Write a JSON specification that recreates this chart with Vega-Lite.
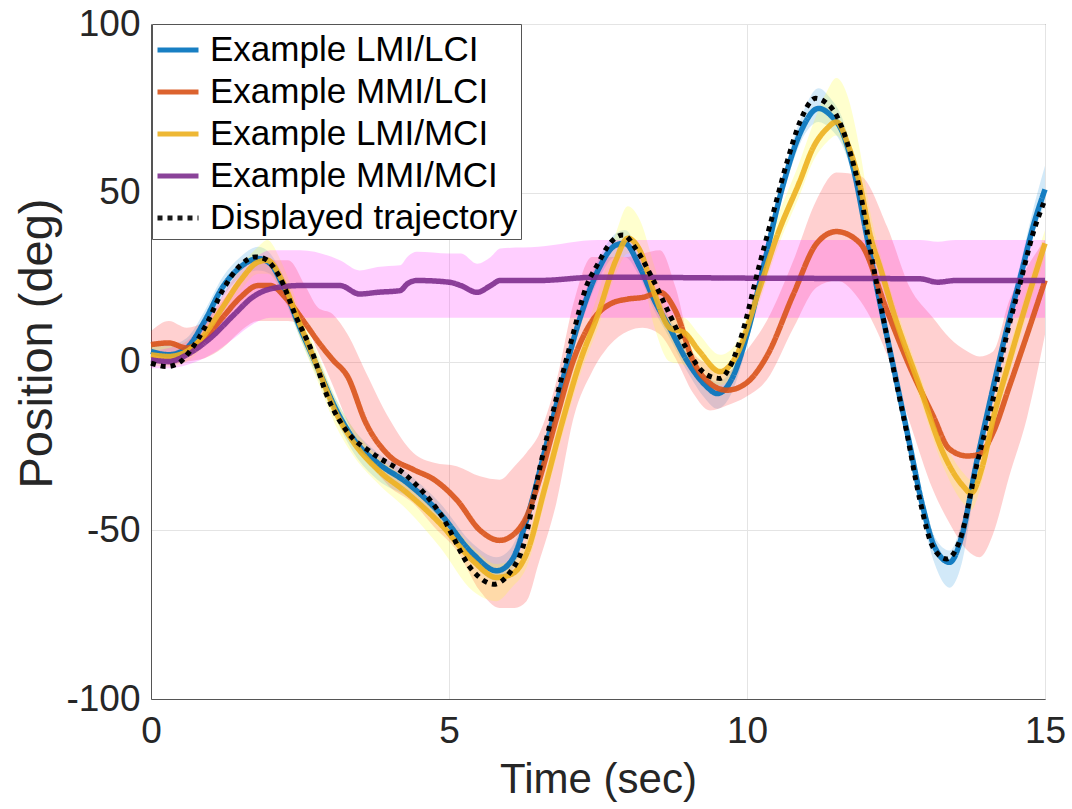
{
  "$schema": "https://vega.github.io/schema/vega-lite/v6.json",
  "width": 894,
  "height": 675,
  "autosize": "none",
  "padding": {"left": 151, "top": 24, "right": 27, "bottom": 110},
  "background": "white",
  "config": {
    "view": {"stroke": "#555555", "strokeWidth": 1},
    "font": "Liberation Sans",
    "axis": {
      "labelFont": "Liberation Sans",
      "labelFontSize": 37,
      "labelColor": "#262626",
      "labelFlush": false,
      "labelOverlap": false,
      "labelExpr": "'' + datum.value",
      "titleFont": "Liberation Sans",
      "titleFontWeight": "normal",
      "titleColor": "#262626",
      "domainColor": "#555555",
      "gridColor": "#e4e4e4",
      "ticks": false
    }
  },
  "data": {
    "values": [
      {"s": "Example LMI/LCI", "t": 0, "y": 3, "lo": 0, "hi": 6},
      {"s": "Example LMI/LCI", "t": 0.3, "y": 2, "lo": -1, "hi": 5},
      {"s": "Example LMI/LCI", "t": 0.6, "y": 4, "lo": 1, "hi": 7},
      {"s": "Example LMI/LCI", "t": 0.9, "y": 12, "lo": 9, "hi": 15},
      {"s": "Example LMI/LCI", "t": 1.2, "y": 22, "lo": 19, "hi": 25},
      {"s": "Example LMI/LCI", "t": 1.5, "y": 28, "lo": 25, "hi": 31},
      {"s": "Example LMI/LCI", "t": 1.8, "y": 30.5, "lo": 27, "hi": 34},
      {"s": "Example LMI/LCI", "t": 2.0, "y": 29, "lo": 26, "hi": 32},
      {"s": "Example LMI/LCI", "t": 2.2, "y": 23, "lo": 20, "hi": 26},
      {"s": "Example LMI/LCI", "t": 2.5, "y": 10, "lo": 7, "hi": 13},
      {"s": "Example LMI/LCI", "t": 2.8, "y": -2, "lo": -5, "hi": 1},
      {"s": "Example LMI/LCI", "t": 3.1, "y": -14, "lo": -17, "hi": -11},
      {"s": "Example LMI/LCI", "t": 3.4, "y": -23, "lo": -27, "hi": -20},
      {"s": "Example LMI/LCI", "t": 3.8, "y": -30, "lo": -35, "hi": -27},
      {"s": "Example LMI/LCI", "t": 4.3, "y": -36, "lo": -40, "hi": -33},
      {"s": "Example LMI/LCI", "t": 4.85, "y": -45, "lo": -48, "hi": -42},
      {"s": "Example LMI/LCI", "t": 5.4, "y": -57, "lo": -60, "hi": -54},
      {"s": "Example LMI/LCI", "t": 5.8, "y": -62, "lo": -65, "hi": -58},
      {"s": "Example LMI/LCI", "t": 6.05, "y": -59, "lo": -62, "hi": -55},
      {"s": "Example LMI/LCI", "t": 6.3, "y": -47, "lo": -50, "hi": -44},
      {"s": "Example LMI/LCI", "t": 6.6, "y": -27, "lo": -30, "hi": -24},
      {"s": "Example LMI/LCI", "t": 6.9, "y": -6, "lo": -9, "hi": -3},
      {"s": "Example LMI/LCI", "t": 7.2, "y": 13, "lo": 10, "hi": 16},
      {"s": "Example LMI/LCI", "t": 7.5, "y": 27, "lo": 24, "hi": 30},
      {"s": "Example LMI/LCI", "t": 7.8, "y": 34.5, "lo": 31, "hi": 38},
      {"s": "Example LMI/LCI", "t": 7.95, "y": 35, "lo": 31, "hi": 39},
      {"s": "Example LMI/LCI", "t": 8.2, "y": 28, "lo": 25, "hi": 32},
      {"s": "Example LMI/LCI", "t": 8.45, "y": 18, "lo": 15, "hi": 21},
      {"s": "Example LMI/LCI", "t": 8.7, "y": 10, "lo": 7, "hi": 13},
      {"s": "Example LMI/LCI", "t": 9.0, "y": 0, "lo": -3, "hi": 3},
      {"s": "Example LMI/LCI", "t": 9.3, "y": -7, "lo": -11, "hi": -4},
      {"s": "Example LMI/LCI", "t": 9.5, "y": -9.5, "lo": -14, "hi": -6},
      {"s": "Example LMI/LCI", "t": 9.75, "y": -5, "lo": -9, "hi": -2},
      {"s": "Example LMI/LCI", "t": 10.0, "y": 8, "lo": 5, "hi": 11},
      {"s": "Example LMI/LCI", "t": 10.3, "y": 30, "lo": 27, "hi": 33},
      {"s": "Example LMI/LCI", "t": 10.6, "y": 52, "lo": 49, "hi": 55},
      {"s": "Example LMI/LCI", "t": 10.9, "y": 68, "lo": 65, "hi": 72},
      {"s": "Example LMI/LCI", "t": 11.2, "y": 75, "lo": 71, "hi": 81},
      {"s": "Example LMI/LCI", "t": 11.4, "y": 73, "lo": 69, "hi": 78},
      {"s": "Example LMI/LCI", "t": 11.6, "y": 68, "lo": 64, "hi": 72},
      {"s": "Example LMI/LCI", "t": 11.8, "y": 56, "lo": 53, "hi": 59},
      {"s": "Example LMI/LCI", "t": 12.0, "y": 38, "lo": 35, "hi": 41},
      {"s": "Example LMI/LCI", "t": 12.2, "y": 20, "lo": 17, "hi": 23},
      {"s": "Example LMI/LCI", "t": 12.45, "y": -1, "lo": -4, "hi": 2},
      {"s": "Example LMI/LCI", "t": 12.7, "y": -22, "lo": -26, "hi": -19},
      {"s": "Example LMI/LCI", "t": 12.95, "y": -43, "lo": -47, "hi": -40},
      {"s": "Example LMI/LCI", "t": 13.15, "y": -55, "lo": -60, "hi": -52},
      {"s": "Example LMI/LCI", "t": 13.4, "y": -59.5, "lo": -67, "hi": -56},
      {"s": "Example LMI/LCI", "t": 13.6, "y": -52, "lo": -60, "hi": -48},
      {"s": "Example LMI/LCI", "t": 13.85, "y": -30, "lo": -34, "hi": -27},
      {"s": "Example LMI/LCI", "t": 14.1, "y": -10, "lo": -13, "hi": -7},
      {"s": "Example LMI/LCI", "t": 14.35, "y": 9, "lo": 6, "hi": 12},
      {"s": "Example LMI/LCI", "t": 14.6, "y": 26, "lo": 23, "hi": 30},
      {"s": "Example LMI/LCI", "t": 14.8, "y": 40, "lo": 37, "hi": 45},
      {"s": "Example LMI/LCI", "t": 15, "y": 51, "lo": 47, "hi": 58},

      {"s": "Example MMI/LCI", "t": 0, "y": 5, "lo": 0, "hi": 9},
      {"s": "Example MMI/LCI", "t": 0.3, "y": 5.5, "lo": -1, "hi": 12},
      {"s": "Example MMI/LCI", "t": 0.6, "y": 4, "lo": 0, "hi": 10},
      {"s": "Example MMI/LCI", "t": 0.9, "y": 7, "lo": 1, "hi": 12},
      {"s": "Example MMI/LCI", "t": 1.2, "y": 13, "lo": 4, "hi": 18},
      {"s": "Example MMI/LCI", "t": 1.5, "y": 19, "lo": 9, "hi": 25},
      {"s": "Example MMI/LCI", "t": 1.8, "y": 22.5, "lo": 12, "hi": 29},
      {"s": "Example MMI/LCI", "t": 2.0, "y": 22.5, "lo": 12, "hi": 30},
      {"s": "Example MMI/LCI", "t": 2.3, "y": 18, "lo": 12, "hi": 30},
      {"s": "Example MMI/LCI", "t": 2.6, "y": 11, "lo": 10, "hi": 22},
      {"s": "Example MMI/LCI", "t": 2.8, "y": 6, "lo": 3, "hi": 16},
      {"s": "Example MMI/LCI", "t": 3.05, "y": 0.5, "lo": -7, "hi": 14},
      {"s": "Example MMI/LCI", "t": 3.3, "y": -4.5, "lo": -18, "hi": 8},
      {"s": "Example MMI/LCI", "t": 3.6, "y": -18, "lo": -28, "hi": -3},
      {"s": "Example MMI/LCI", "t": 4.0, "y": -28, "lo": -37, "hi": -17},
      {"s": "Example MMI/LCI", "t": 4.4, "y": -32, "lo": -42, "hi": -27},
      {"s": "Example MMI/LCI", "t": 4.75, "y": -35, "lo": -49, "hi": -30},
      {"s": "Example MMI/LCI", "t": 5.13, "y": -41, "lo": -56, "hi": -31},
      {"s": "Example MMI/LCI", "t": 5.52, "y": -50, "lo": -68, "hi": -34},
      {"s": "Example MMI/LCI", "t": 5.85, "y": -53, "lo": -73, "hi": -35},
      {"s": "Example MMI/LCI", "t": 6.1, "y": -51, "lo": -73, "hi": -31},
      {"s": "Example MMI/LCI", "t": 6.3, "y": -46, "lo": -71, "hi": -27},
      {"s": "Example MMI/LCI", "t": 6.5, "y": -36, "lo": -60, "hi": -22},
      {"s": "Example MMI/LCI", "t": 6.8, "y": -17, "lo": -42, "hi": -6},
      {"s": "Example MMI/LCI", "t": 7.1, "y": 1, "lo": -16, "hi": 18},
      {"s": "Example MMI/LCI", "t": 7.4, "y": 12, "lo": -3, "hi": 31},
      {"s": "Example MMI/LCI", "t": 7.7, "y": 17, "lo": 5, "hi": 31},
      {"s": "Example MMI/LCI", "t": 8.0, "y": 18.5, "lo": 9, "hi": 31},
      {"s": "Example MMI/LCI", "t": 8.25, "y": 19, "lo": 10, "hi": 32},
      {"s": "Example MMI/LCI", "t": 8.54, "y": 20.5, "lo": 8, "hi": 33},
      {"s": "Example MMI/LCI", "t": 8.8, "y": 15, "lo": 1, "hi": 22},
      {"s": "Example MMI/LCI", "t": 9.1, "y": 0, "lo": -9.5, "hi": 2.5},
      {"s": "Example MMI/LCI", "t": 9.38, "y": -6.5, "lo": -14.5, "hi": -1},
      {"s": "Example MMI/LCI", "t": 9.66, "y": -8.5, "lo": -13, "hi": -3},
      {"s": "Example MMI/LCI", "t": 9.98, "y": -6.5, "lo": -10.5, "hi": 3},
      {"s": "Example MMI/LCI", "t": 10.33, "y": 1.5, "lo": -5.5, "hi": 12},
      {"s": "Example MMI/LCI", "t": 10.78, "y": 20, "lo": 10, "hi": 30},
      {"s": "Example MMI/LCI", "t": 11.17, "y": 35, "lo": 22, "hi": 48},
      {"s": "Example MMI/LCI", "t": 11.5, "y": 38.5, "lo": 24, "hi": 56},
      {"s": "Example MMI/LCI", "t": 11.9, "y": 35, "lo": 18, "hi": 55},
      {"s": "Example MMI/LCI", "t": 12.35, "y": 15, "lo": 2, "hi": 40},
      {"s": "Example MMI/LCI", "t": 12.73, "y": -1.5, "lo": -18, "hi": 22},
      {"s": "Example MMI/LCI", "t": 13.12, "y": -16, "lo": -38, "hi": 13},
      {"s": "Example MMI/LCI", "t": 13.4, "y": -26, "lo": -48, "hi": 7},
      {"s": "Example MMI/LCI", "t": 13.7, "y": -28, "lo": -56, "hi": 3},
      {"s": "Example MMI/LCI", "t": 13.9, "y": -27.5, "lo": -58, "hi": 1.5},
      {"s": "Example MMI/LCI", "t": 14.13, "y": -21, "lo": -51, "hi": 3},
      {"s": "Example MMI/LCI", "t": 14.4, "y": -7.5, "lo": -34, "hi": 18},
      {"s": "Example MMI/LCI", "t": 14.7, "y": 8, "lo": -16.5, "hi": 28},
      {"s": "Example MMI/LCI", "t": 15, "y": 24, "lo": 8, "hi": 36},

      {"s": "Example LMI/MCI", "t": 0, "y": 2, "lo": -1, "hi": 5},
      {"s": "Example LMI/MCI", "t": 0.3, "y": 1.5, "lo": -1.5, "hi": 4.5},
      {"s": "Example LMI/MCI", "t": 0.6, "y": 3, "lo": 0, "hi": 6},
      {"s": "Example LMI/MCI", "t": 0.9, "y": 8, "lo": 5, "hi": 11},
      {"s": "Example LMI/MCI", "t": 1.2, "y": 16, "lo": 13, "hi": 19},
      {"s": "Example LMI/MCI", "t": 1.5, "y": 24, "lo": 21, "hi": 28},
      {"s": "Example LMI/MCI", "t": 1.8, "y": 29.5, "lo": 26, "hi": 34},
      {"s": "Example LMI/MCI", "t": 1.95, "y": 30, "lo": 26, "hi": 36},
      {"s": "Example LMI/MCI", "t": 2.2, "y": 24, "lo": 20, "hi": 29},
      {"s": "Example LMI/MCI", "t": 2.5, "y": 11, "lo": 7, "hi": 15},
      {"s": "Example LMI/MCI", "t": 2.8, "y": -2, "lo": -6, "hi": 2},
      {"s": "Example LMI/MCI", "t": 3.1, "y": -15, "lo": -19, "hi": -11},
      {"s": "Example LMI/MCI", "t": 3.4, "y": -24, "lo": -28, "hi": -20},
      {"s": "Example LMI/MCI", "t": 3.8, "y": -32, "lo": -36, "hi": -28},
      {"s": "Example LMI/MCI", "t": 4.3, "y": -39, "lo": -44, "hi": -35},
      {"s": "Example LMI/MCI", "t": 4.85, "y": -48, "lo": -55, "hi": -44},
      {"s": "Example LMI/MCI", "t": 5.4, "y": -59, "lo": -68, "hi": -55},
      {"s": "Example LMI/MCI", "t": 5.8, "y": -64, "lo": -71, "hi": -60},
      {"s": "Example LMI/MCI", "t": 6.05, "y": -63, "lo": -67, "hi": -59},
      {"s": "Example LMI/MCI", "t": 6.3, "y": -57, "lo": -61, "hi": -53},
      {"s": "Example LMI/MCI", "t": 6.6, "y": -38, "lo": -42, "hi": -34},
      {"s": "Example LMI/MCI", "t": 6.9, "y": -18, "lo": -22, "hi": -14},
      {"s": "Example LMI/MCI", "t": 7.2, "y": 0, "lo": -4, "hi": 4},
      {"s": "Example LMI/MCI", "t": 7.5, "y": 14, "lo": 10, "hi": 20},
      {"s": "Example LMI/MCI", "t": 7.8, "y": 30, "lo": 26, "hi": 38},
      {"s": "Example LMI/MCI", "t": 8.0, "y": 36.5, "lo": 32, "hi": 46},
      {"s": "Example LMI/MCI", "t": 8.2, "y": 33, "lo": 28, "hi": 42},
      {"s": "Example LMI/MCI", "t": 8.45, "y": 20, "lo": 10, "hi": 28},
      {"s": "Example LMI/MCI", "t": 8.7, "y": 10, "lo": 0, "hi": 14},
      {"s": "Example LMI/MCI", "t": 8.95, "y": 8.5, "lo": -1, "hi": 13},
      {"s": "Example LMI/MCI", "t": 9.2, "y": 3, "lo": -4, "hi": 8},
      {"s": "Example LMI/MCI", "t": 9.55, "y": -3, "lo": -7, "hi": 2},
      {"s": "Example LMI/MCI", "t": 9.8, "y": 1, "lo": -3, "hi": 5},
      {"s": "Example LMI/MCI", "t": 10.2, "y": 21, "lo": 17, "hi": 25},
      {"s": "Example LMI/MCI", "t": 10.5, "y": 37, "lo": 33, "hi": 42},
      {"s": "Example LMI/MCI", "t": 10.9, "y": 54, "lo": 50, "hi": 60},
      {"s": "Example LMI/MCI", "t": 11.1, "y": 63, "lo": 59, "hi": 70},
      {"s": "Example LMI/MCI", "t": 11.34, "y": 69, "lo": 65, "hi": 80},
      {"s": "Example LMI/MCI", "t": 11.5, "y": 71, "lo": 67, "hi": 84},
      {"s": "Example LMI/MCI", "t": 11.7, "y": 64, "lo": 60, "hi": 78},
      {"s": "Example LMI/MCI", "t": 11.9, "y": 52, "lo": 48, "hi": 62},
      {"s": "Example LMI/MCI", "t": 12.06, "y": 38, "lo": 34, "hi": 45},
      {"s": "Example LMI/MCI", "t": 12.25, "y": 27, "lo": 23, "hi": 31},
      {"s": "Example LMI/MCI", "t": 12.45, "y": 15, "lo": 11, "hi": 19},
      {"s": "Example LMI/MCI", "t": 12.9, "y": -7.5, "lo": -11, "hi": -4},
      {"s": "Example LMI/MCI", "t": 13.29, "y": -27, "lo": -31, "hi": -23},
      {"s": "Example LMI/MCI", "t": 13.63, "y": -37, "lo": -42, "hi": -33},
      {"s": "Example LMI/MCI", "t": 13.76, "y": -39, "lo": -44, "hi": -35},
      {"s": "Example LMI/MCI", "t": 13.95, "y": -31, "lo": -35, "hi": -27},
      {"s": "Example LMI/MCI", "t": 14.13, "y": -17, "lo": -21, "hi": -13},
      {"s": "Example LMI/MCI", "t": 14.4, "y": 0, "lo": -4, "hi": 4},
      {"s": "Example LMI/MCI", "t": 14.7, "y": 18, "lo": 14, "hi": 22},
      {"s": "Example LMI/MCI", "t": 15, "y": 35, "lo": 31, "hi": 39},

      {"s": "Example MMI/MCI", "t": 0, "y": 0.5, "lo": -2, "hi": 3},
      {"s": "Example MMI/MCI", "t": 0.3, "y": 0, "lo": -2, "hi": 4},
      {"s": "Example MMI/MCI", "t": 0.6, "y": 2, "lo": -1, "hi": 6},
      {"s": "Example MMI/MCI", "t": 1.0, "y": 7, "lo": 2, "hi": 14},
      {"s": "Example MMI/MCI", "t": 1.4, "y": 14, "lo": 7, "hi": 25},
      {"s": "Example MMI/MCI", "t": 1.7, "y": 19, "lo": 11, "hi": 30},
      {"s": "Example MMI/MCI", "t": 2.0, "y": 21.5, "lo": 13, "hi": 33},
      {"s": "Example MMI/MCI", "t": 2.5, "y": 22.5, "lo": 13, "hi": 33},
      {"s": "Example MMI/MCI", "t": 3.17, "y": 22.5, "lo": 13, "hi": 30},
      {"s": "Example MMI/MCI", "t": 3.5, "y": 20, "lo": 13, "hi": 27},
      {"s": "Example MMI/MCI", "t": 3.8, "y": 20.5, "lo": 13, "hi": 28},
      {"s": "Example MMI/MCI", "t": 4.18, "y": 21, "lo": 13, "hi": 28.5},
      {"s": "Example MMI/MCI", "t": 4.3, "y": 23, "lo": 13, "hi": 31},
      {"s": "Example MMI/MCI", "t": 4.46, "y": 24, "lo": 13, "hi": 32.5},
      {"s": "Example MMI/MCI", "t": 5.0, "y": 23.5, "lo": 13, "hi": 32},
      {"s": "Example MMI/MCI", "t": 5.2, "y": 22.5, "lo": 13, "hi": 32},
      {"s": "Example MMI/MCI", "t": 5.47, "y": 20.5, "lo": 13, "hi": 29},
      {"s": "Example MMI/MCI", "t": 5.7, "y": 22.5, "lo": 13, "hi": 31},
      {"s": "Example MMI/MCI", "t": 5.86, "y": 24, "lo": 13, "hi": 33.5},
      {"s": "Example MMI/MCI", "t": 6.5, "y": 24, "lo": 13, "hi": 34},
      {"s": "Example MMI/MCI", "t": 7.5, "y": 25, "lo": 13, "hi": 36},
      {"s": "Example MMI/MCI", "t": 10, "y": 24.7, "lo": 13, "hi": 36},
      {"s": "Example MMI/MCI", "t": 12.9, "y": 24.5, "lo": 13, "hi": 36},
      {"s": "Example MMI/MCI", "t": 13.2, "y": 23.5, "lo": 13, "hi": 35.5},
      {"s": "Example MMI/MCI", "t": 13.5, "y": 24, "lo": 13, "hi": 36},
      {"s": "Example MMI/MCI", "t": 15, "y": 24, "lo": 13, "hi": 36},

      {"s": "Displayed trajectory", "t": 0, "y": -0.5},
      {"s": "Displayed trajectory", "t": 0.27, "y": -1.5},
      {"s": "Displayed trajectory", "t": 0.5, "y": 0},
      {"s": "Displayed trajectory", "t": 0.65, "y": 3},
      {"s": "Displayed trajectory", "t": 0.93, "y": 11},
      {"s": "Displayed trajectory", "t": 1.2, "y": 21},
      {"s": "Displayed trajectory", "t": 1.5, "y": 28.5},
      {"s": "Displayed trajectory", "t": 1.75, "y": 31},
      {"s": "Displayed trajectory", "t": 1.9, "y": 30.5},
      {"s": "Displayed trajectory", "t": 2.16, "y": 25},
      {"s": "Displayed trajectory", "t": 2.44, "y": 13},
      {"s": "Displayed trajectory", "t": 2.7, "y": 3},
      {"s": "Displayed trajectory", "t": 2.95, "y": -10},
      {"s": "Displayed trajectory", "t": 3.3, "y": -21},
      {"s": "Displayed trajectory", "t": 3.7, "y": -27},
      {"s": "Displayed trajectory", "t": 4.3, "y": -34},
      {"s": "Displayed trajectory", "t": 4.85, "y": -45},
      {"s": "Displayed trajectory", "t": 5.4, "y": -62},
      {"s": "Displayed trajectory", "t": 5.75, "y": -66},
      {"s": "Displayed trajectory", "t": 6.0, "y": -63},
      {"s": "Displayed trajectory", "t": 6.24, "y": -55},
      {"s": "Displayed trajectory", "t": 6.53, "y": -31},
      {"s": "Displayed trajectory", "t": 6.8, "y": -11},
      {"s": "Displayed trajectory", "t": 7.08, "y": 8},
      {"s": "Displayed trajectory", "t": 7.3, "y": 22},
      {"s": "Displayed trajectory", "t": 7.5, "y": 29},
      {"s": "Displayed trajectory", "t": 7.7, "y": 35},
      {"s": "Displayed trajectory", "t": 7.92, "y": 37.5},
      {"s": "Displayed trajectory", "t": 8.15, "y": 33},
      {"s": "Displayed trajectory", "t": 8.43, "y": 24},
      {"s": "Displayed trajectory", "t": 8.7, "y": 14},
      {"s": "Displayed trajectory", "t": 8.98, "y": 4},
      {"s": "Displayed trajectory", "t": 9.33, "y": -4},
      {"s": "Displayed trajectory", "t": 9.55, "y": -5},
      {"s": "Displayed trajectory", "t": 9.7, "y": -2},
      {"s": "Displayed trajectory", "t": 9.88, "y": 6},
      {"s": "Displayed trajectory", "t": 10.2, "y": 28},
      {"s": "Displayed trajectory", "t": 10.44, "y": 44},
      {"s": "Displayed trajectory", "t": 10.67, "y": 59},
      {"s": "Displayed trajectory", "t": 10.9, "y": 71.5},
      {"s": "Displayed trajectory", "t": 11.15, "y": 78},
      {"s": "Displayed trajectory", "t": 11.3, "y": 77},
      {"s": "Displayed trajectory", "t": 11.5, "y": 73},
      {"s": "Displayed trajectory", "t": 11.73, "y": 62},
      {"s": "Displayed trajectory", "t": 11.9, "y": 50},
      {"s": "Displayed trajectory", "t": 12.06, "y": 34},
      {"s": "Displayed trajectory", "t": 12.23, "y": 18},
      {"s": "Displayed trajectory", "t": 12.45, "y": -1.5},
      {"s": "Displayed trajectory", "t": 12.68, "y": -21},
      {"s": "Displayed trajectory", "t": 12.9, "y": -41},
      {"s": "Displayed trajectory", "t": 13.12, "y": -55},
      {"s": "Displayed trajectory", "t": 13.35, "y": -58.5},
      {"s": "Displayed trajectory", "t": 13.57, "y": -53},
      {"s": "Displayed trajectory", "t": 13.85, "y": -31},
      {"s": "Displayed trajectory", "t": 14.13, "y": -11},
      {"s": "Displayed trajectory", "t": 14.36, "y": 8},
      {"s": "Displayed trajectory", "t": 14.58, "y": 23},
      {"s": "Displayed trajectory", "t": 14.8, "y": 38},
      {"s": "Displayed trajectory", "t": 15, "y": 48}
    ]
  },
  "encoding": {
    "x": {
      "field": "t",
      "type": "quantitative",
      "scale": {"domain": [0, 15], "nice": false},
      "axis": {"values": [0, 5, 10, 15], "title": "Time (sec)", "titleFontSize": 42, "titlePadding": 10, "labelPadding": 14, "grid": true}
    }
  },
  "layer": [
    {
      "transform": [{"filter": "datum.s !== 'Displayed trajectory'"}],
      "mark": {"type": "area", "interpolate": "monotone", "fillOpacity": 0.22},
      "encoding": {
        "y": {
          "field": "lo",
          "type": "quantitative",
          "scale": {"domain": [-100, 100], "nice": false},
          "axis": {"values": [-100, -50, 0, 50, 100], "title": "Position (deg)", "titleFontSize": 47, "titlePadding": 4, "titleY": 319, "labelPadding": 11, "grid": true}
        },
        "y2": {"field": "hi"},
        "fill": {
          "field": "s",
          "type": "nominal",
          "scale": {
            "domain": ["Example MMI/LCI", "Example MMI/MCI", "Example LMI/LCI", "Example LMI/MCI"],
            "range": ["#ff2a2a", "#ff22ff", "#3399dd", "#ffff22"]
          },
          "legend": null
        },
        "order": {"field": "s", "sort": "descending"}
      }
    },
    {
      "transform": [{"filter": "datum.s !== 'Displayed trajectory'"}],
      "mark": {"type": "line", "interpolate": "monotone", "strokeWidth": 5.5, "opacity": 0.9},
      "encoding": {
        "y": {"field": "y", "type": "quantitative"},
        "color": {
          "field": "s",
          "type": "nominal",
          "scale": {
            "domain": ["Example LMI/LCI", "Example MMI/LCI", "Example LMI/MCI", "Example MMI/MCI", "Displayed trajectory"],
            "range": ["#0072BD", "#D95319", "#EDB120", "#7E2F8E", "#000000"]
          },
          "legend": {
            "title": null,
            "orient": "none",
            "legendX": 1,
            "legendY": 0,
            "symbolType": "stroke",
            "symbolSize": 1681,
            "symbolStrokeWidth": 5,
            "symbolOpacity": 1,
            "labelFont": "Liberation Sans",
            "labelFontSize": 35,
            "labelColor": "#000000",
            "labelOffset": 9,
            "labelLimit": 600,
            "rowPadding": 1,
            "padding": 3,
            "strokeColor": "#555555",
            "fillColor": "#ffffff",
            "cornerRadius": 0
          }
        },
        "strokeDash": {
          "field": "s",
          "type": "nominal",
          "scale": {
            "domain": ["Example LMI/LCI", "Example MMI/LCI", "Example LMI/MCI", "Example MMI/MCI", "Displayed trajectory"],
            "range": [[1, 0], [1, 0], [1, 0], [1, 0], [5, 5]]
          }
        }
      }
    },
    {
      "transform": [{"filter": "datum.s === 'Displayed trajectory'"}],
      "mark": {"type": "line", "interpolate": "monotone", "strokeWidth": 5, "strokeCap": "butt"},
      "encoding": {
        "y": {"field": "y", "type": "quantitative"},
        "color": {"field": "s", "type": "nominal"},
        "strokeDash": {"field": "s", "type": "nominal"}
      }
    }
  ]
}
